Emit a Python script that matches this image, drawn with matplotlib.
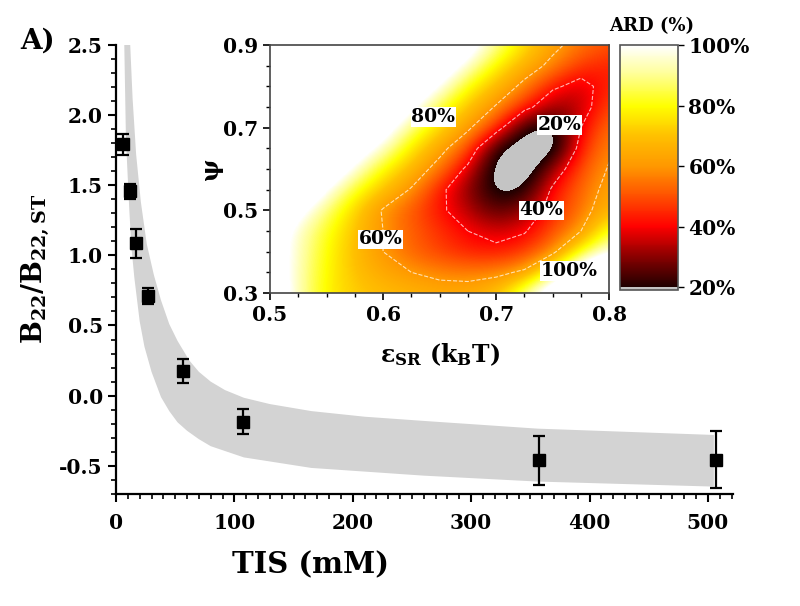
import matplotlib
matplotlib.use("Agg")
import matplotlib.pyplot as plt
import numpy as np
from matplotlib.colors import LinearSegmentedColormap
from matplotlib.ticker import MultipleLocator

plt.rcParams['font.family'] = ['DejaVu Serif']
plt.rcParams['font.weight'] = 'bold'
plt.rcParams['axes.labelweight'] = 'bold'
plt.rcParams['mathtext.fontset'] = 'custom'
plt.rcParams['mathtext.rm'] = 'DejaVu Serif:bold'
plt.rcParams['mathtext.it'] = 'DejaVu Serif:bold'
plt.rcParams['mathtext.bf'] = 'DejaVu Serif:bold'

# experimental points
tis = [6, 11.5, 16.5, 27, 56.5, 107, 357, 507]
b22 = [1.79, 1.455, 1.085, 0.71, 0.175, -0.185, -0.46, -0.455]
b22_err = [0.075, 0.05, 0.105, 0.06, 0.085, 0.09, 0.175, 0.205]

# model band (upper / lower edges)
band_up_x = [12, 14, 17, 21, 26, 32, 38, 45, 52, 62, 70, 80, 92, 108, 130, 165, 210, 260, 356, 505]
band_up_y = [2.5, 2.12, 1.72, 1.38, 1.08, 0.86, 0.68, 0.51, 0.39, 0.25, 0.17, 0.1, 0.04, -0.015,
             -0.06, -0.11, -0.15, -0.18, -0.235, -0.28]
band_lo_x = [7, 8.4, 9.5, 11.2, 13, 15.5, 20, 24, 30, 38, 45, 52, 60, 70, 80, 108, 165, 260, 356, 505]
band_lo_y = [2.5, 1.83, 1.63, 1.33, 1.06, 0.84, 0.53, 0.35, 0.17, -0.01, -0.11, -0.19, -0.25,
             -0.31, -0.36, -0.44, -0.515, -0.57, -0.612, -0.648]

# ARD map (%) on eps_SR x psi grid
eps = [0.5, 0.525, 0.55, 0.575, 0.6, 0.625, 0.65, 0.675, 0.7, 0.725, 0.75, 0.775, 0.8]
psi = [0.3, 0.35, 0.4, 0.45, 0.5, 0.55, 0.6, 0.65, 0.7, 0.75, 0.8, 0.85, 0.9]
ard = [
    [115, 93, 78, 72, 69, 67, 65, 65, 70, 90, 115, 135, 150],
    [113, 93, 79, 70, 64, 60, 57, 56, 57, 62, 84, 112, 135],
    [112, 94, 80, 69, 60, 53, 48, 44, 43, 47, 57, 82, 98],
    [112, 95, 82, 70, 60, 52, 46, 40, 36, 39, 50, 60, 85],
    [125, 104, 88, 73, 59, 51, 42, 34, 25, 31, 45, 55, 68],
    [140, 120, 100, 82, 70, 59, 43, 30, 17, 19.5, 42, 53, 64],
    [155, 135, 115, 97, 79, 68, 55, 37, 15, 12, 32, 50, 61],
    [170, 150, 130, 110, 95, 76, 64, 50, 20.5, 12, 14, 45, 58],
    [185, 165, 145, 125, 108, 88, 73, 62, 46, 20, 16, 40, 55],
    [200, 180, 160, 140, 120, 103, 84, 70, 59, 44, 31, 34, 50],
    [215, 195, 175, 155, 135, 115, 99, 80, 68, 57, 42, 36, 45],
    [230, 210, 190, 170, 150, 130, 112, 95, 78, 66, 57, 46, 44],
    [245, 225, 205, 185, 165, 145, 125, 108, 90, 75, 63, 55, 50],
]
map_labels = ['80%', '20%', '40%', '60%', '100%']
label_eps = [0.6445, 0.756, 0.740, 0.598, 0.765]
label_psi = [0.726, 0.706, 0.50, 0.43, 0.353]

fig = plt.figure(figsize=(8, 6.06), dpi=100)

# main panel
ax = fig.add_axes([0.145, 0.185, 0.771, 0.741])
ax.fill(band_up_x + band_lo_x[::-1], band_up_y + band_lo_y[::-1],
        color='#d3d3d3', lw=0, zorder=1)
ax.errorbar(tis, b22, yerr=b22_err, fmt='s', color='black', ms=8.5,
            capsize=4, elinewidth=1.6, capthick=1.6, zorder=3)
ax.set_xlim(0, 521)
ax.set_ylim(-0.7, 2.5)
ax.xaxis.set_major_locator(MultipleLocator(100))
ax.xaxis.set_minor_locator(MultipleLocator(10))
ax.yaxis.set_major_locator(MultipleLocator(0.5))
ax.yaxis.set_minor_locator(MultipleLocator(0.1))
ax.yaxis.set_major_formatter(plt.FuncFormatter(lambda v, p: f'{v:.1f}'))
for s in ['top', 'right']:
    ax.spines[s].set_visible(False)
for s in ['left', 'bottom']:
    ax.spines[s].set_linewidth(1.6)
ax.tick_params(which='major', direction='out', length=6, width=1.5, labelsize=14.5)
ax.tick_params(axis='x', which='major', pad=8)
ax.tick_params(which='minor', direction='out', length=3.5, width=1.2)
ax.set_xlabel('TIS (mM)', fontsize=21, fontweight='bold')
ax.xaxis.set_label_coords(0.316, -0.125)
ax.set_ylabel('B$_{22}$/B$_{22,ST}$', fontsize=19.5, fontweight='bold')
ax.yaxis.set_label_coords(-0.105, 0.5)
fig.text(0.047, 0.932, 'A)', fontsize=20, fontweight='bold', ha='center', va='center')

# inset ARD map
cmap = LinearSegmentedColormap.from_list('ard', [
    (0.0, '#200000'), (0.125, '#8a0000'), (0.25, '#ff0000'),
    (0.375, '#ff5000'), (0.5, '#ff9800'), (0.625, '#ffc000'),
    (0.75, '#ffff00'), (0.875, '#ffff90'), (1.0, '#ffffff')])
cmap.set_under('#c4c4c4')
cmap.set_over('#ffffff')

axi = fig.add_axes([0.3375, 0.5165, 0.424, 0.4092])
de = (eps[1] - eps[0]) / 2
dp = (psi[1] - psi[0]) / 2
im = axi.imshow(np.array(ard), origin='lower', aspect='auto', cmap=cmap,
                vmin=20, vmax=100, interpolation='bicubic',
                extent=[eps[0] - de, eps[-1] + de, psi[0] - dp, psi[-1] + dp])
axi.contour(eps, psi, ard, levels=[40, 60], colors='white',
            linestyles='--', linewidths=0.8, alpha=0.7)
for t, x, y in zip(map_labels, label_eps, label_psi):
    axi.text(x, y, t, ha='center', va='center', fontsize=13.5, fontweight='bold',
             bbox=dict(facecolor='white', edgecolor='none', pad=0.5))
axi.set_xlim(0.5, 0.8)
axi.set_ylim(0.3, 0.9)
axi.set_xticks([0.5, 0.6, 0.7, 0.8])
axi.set_yticks([0.3, 0.5, 0.7, 0.9])
axi.xaxis.set_minor_locator(MultipleLocator(0.025))
axi.yaxis.set_minor_locator(MultipleLocator(0.05))
axi.xaxis.set_major_formatter(plt.FuncFormatter(lambda v, p: f'{v:.1f}'))
axi.yaxis.set_major_formatter(plt.FuncFormatter(lambda v, p: f'{v:.1f}'))
for s in axi.spines.values():
    s.set_color('#444444')
    s.set_linewidth(1.2)
axi.tick_params(which='major', direction='out', length=5, width=1.2, labelsize=14.5)
axi.tick_params(which='minor', direction='out', length=3, width=1.0)
axi.set_xlabel('ε$_{SR}$ (k$_{B}$T)', fontsize=17, fontweight='bold', labelpad=12)
axi.set_ylabel('ψ', fontsize=17, fontweight='bold', labelpad=0)

cax = fig.add_axes([0.775, 0.5215, 0.0725, 0.404])
cb = fig.colorbar(im, cax=cax, extend='min', extendrect=True, extendfrac=0.012,
                  ticks=[20, 40, 60, 80, 100])
cb.ax.set_yticklabels(['20%', '40%', '60%', '80%', '100%'])
cb.ax.tick_params(labelsize=14.5, length=4, width=1.0)
cb.outline.set_edgecolor('#555555')
cb.outline.set_linewidth(1.2)
fig.text(0.814, 0.957, 'ARD (%)', fontsize=13, fontweight='bold', ha='center', va='center')

fig.savefig('out.png', dpi=100)
